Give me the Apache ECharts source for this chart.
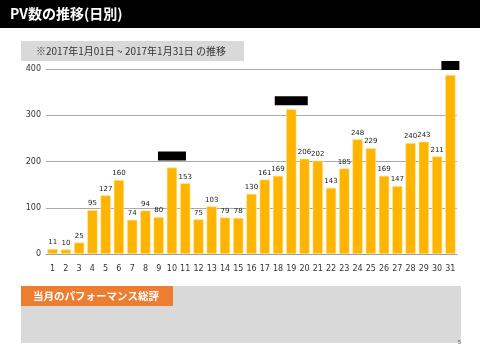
<!DOCTYPE html>
<html><head><meta charset="utf-8">
<script src="https://cdn.jsdelivr.net/npm/echarts@6/dist/echarts.min.js"></script>
<style>html,body{margin:0;padding:0;background:#fff}#c{width:480px;height:360px}</style>
</head><body><div id="c"></div>
<script>
var days = ['1','2','3','4','5','6','7','8','9','10','11','12','13','14','15','16','17','18','19','20','21','22','23','24','25','26','27','28','29','30','31'];
var pv = [11,10,25,95,127,160,74,94,80,187,153,75,103,79,78,130,161,169,313,206,202,143,185,248,229,169,147,240,243,211,387];
var redacted = ['10','19','31'];
var titleText = 'PV数の推移(日別)';
var subText = '※2017年1月01日 ~ 2017年1月31日 の推移';
var bottomText = '当月のパフォーマンス総評';

var redactW = {'10':28,'19':33,'31':18};
var redactDist = {'10':7,'19':4,'31':5};
var data = pv.map(function(v,i){
  var d = days[i];
  if (redacted.indexOf(d) >= 0) {
    return {value:v, label:{show:true, formatter:'{b|}', distance:redactDist[d],
      rich:{b:{backgroundColor:'#000', width:redactW[d], height:9}}}};
  }
  return v;
});

var chart = echarts.init(document.getElementById('c'));
var jp = '"Noto Sans CJK JP", sans-serif';
chart.setOption({
  animation:false,
  grid:{left:46, right:23, top:69, bottom:106},
  xAxis:{type:'category', data:days,
    axisLine:{show:true, lineStyle:{color:'#999'}}, axisTick:{show:false},
    axisLabel:{color:'#333', fontSize:8, margin:11, fontFamily:'DejaVu Sans', interval:0}},
  yAxis:{type:'value', min:0, max:400, interval:100,
    axisLine:{show:false}, axisTick:{show:false},
    axisLabel:{color:'#333', fontSize:8, margin:5, fontFamily:'DejaVu Sans'},
    splitLine:{lineStyle:{color:'#aaa', width:1}}},
  series:[{type:'bar', data:data, barCategoryGap:'22%',
    itemStyle:{color:'#FFB400', borderColor:'#FFE9A8', borderWidth:0.6},
    label:{show:true, position:'top', color:'#222', fontSize:7, distance:3, fontFamily:'DejaVu Sans'}}],
  graphic:[
    {type:'rect', shape:{x:0,y:0,width:480,height:28}, style:{fill:'#000'}},
    {type:'text', x:10, y:14, style:{text:titleText, fill:'#fff', font:'bold 14px '+jp, verticalAlign:'middle'}},
    {type:'rect', shape:{x:21,y:41,width:223,height:20}, style:{fill:'#d9d9d9'}},
    {type:'text', x:36, y:51, style:{text:subText, fill:'#333', font:'10px '+jp, verticalAlign:'middle'}},
    {type:'rect', shape:{x:21,y:286,width:440,height:57}, style:{fill:'#d9d9d9'}},
    {type:'rect', shape:{x:21,y:286,width:152,height:20}, style:{fill:'#ED7D31'}},
    {type:'text', x:33, y:296, style:{text:bottomText, fill:'#fff', font:'bold 10.5px '+jp, verticalAlign:'middle'}},
    {type:'text', x:458, y:343, style:{text:'5', fill:'#555', font:'5px sans-serif', verticalAlign:'middle'}}
  ]
});
</script></body></html>
